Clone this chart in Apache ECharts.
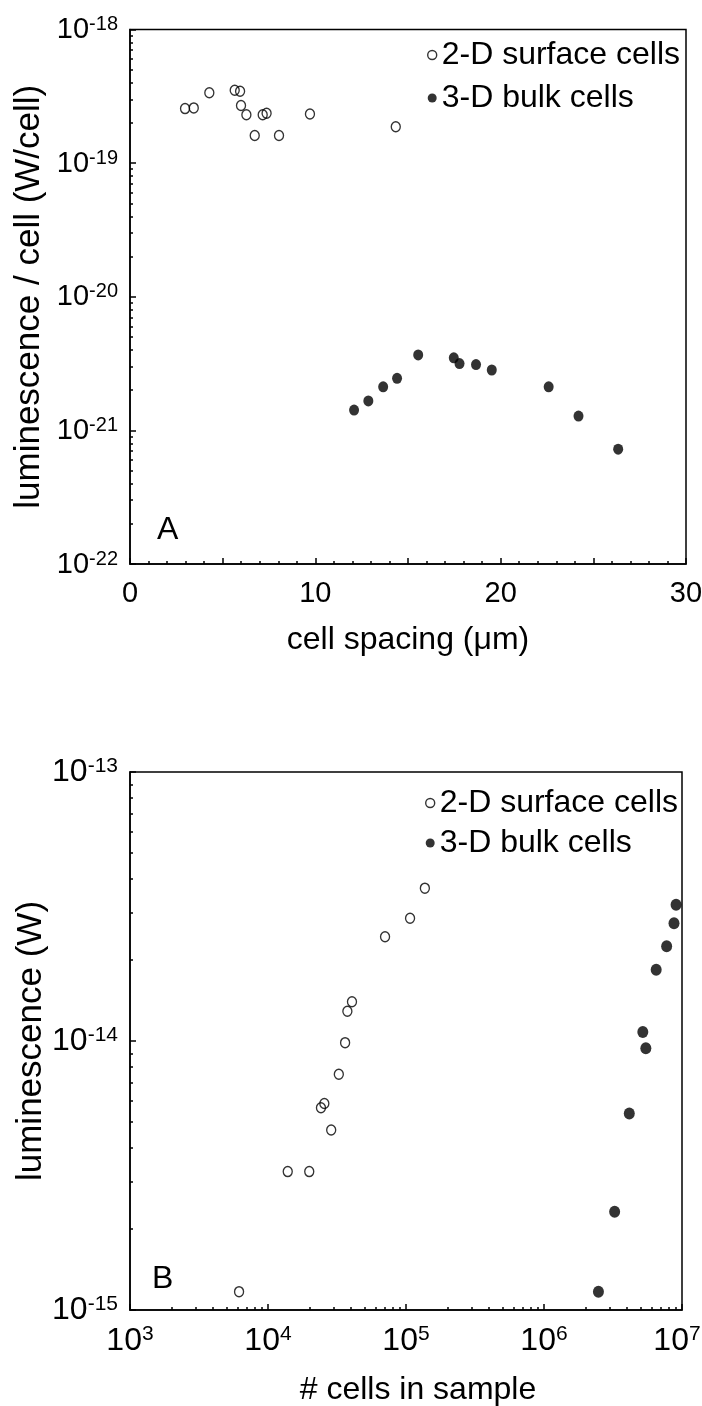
<!DOCTYPE html>
<html><head><meta charset="utf-8">
<script src="https://cdn.jsdelivr.net/npm/echarts@6/dist/echarts.min.js"></script>
<style>html,body{margin:0;padding:0;background:#fff}#c{width:702px;height:1406px}</style>
</head><body><div id="c"></div>
<script>
const FONT = '"Liberation Sans", Arial, sans-serif';
// ---- Panel A: luminescence per cell vs cell spacing ----
const spacing2D = [2.97,3.44,4.28,5.65,5.94,5.99,6.28,6.73,7.16,7.37,8.04,9.71,14.34];
const lumCell2D = [2.56e-19,2.59e-19,3.36e-19,3.51e-19,3.45e-19,2.70e-19,2.30e-19,1.61e-19,2.30e-19,2.36e-19,1.61e-19,2.33e-19,1.87e-19];
const spacing3D = [12.09,12.86,13.66,14.41,15.55,17.47,17.78,18.67,19.52,22.59,24.20,26.34];
const lumCell3D = [1.42e-21,1.66e-21,2.12e-21,2.45e-21,3.67e-21,3.49e-21,3.16e-21,3.11e-21,2.83e-21,2.12e-21,1.28e-21,7.23e-22];
// ---- Panel B: luminescence vs number of cells ----
const cells2D = [6.17e3,1.39e4,1.99e4,2.42e4,2.56e4,2.87e4,3.26e4,3.62e4,3.76e4,4.06e4,7.05e4,1.07e5,1.37e5];
const lum2D = [1.17e-15,3.27e-15,3.27e-15,5.65e-15,5.86e-15,4.67e-15,7.52e-15,9.86e-15,1.29e-14,1.40e-14,2.44e-14,2.86e-14,3.70e-14];
const cells3D = [2.48e6,3.25e6,4.15e6,5.2e6,5.47e6,6.5e6,7.74e6,8.75e6,9.06e6];
const lum3D = [1.17e-15,2.32e-15,5.38e-15,1.08e-14,9.40e-15,1.84e-14,2.25e-14,2.74e-14,3.21e-14];
// ---- tick labels / names ----
const xTickLabelsA = [0,10,20,30];
const yExpRangeA = [-22,-18];   // decades shown as 10^n labels
const xExpRangeB = [3,7];
const yExpRangeB = [-15,-13];
const seriesNames = ['2-D surface cells','3-D bulk cells'];
const panelLabels = ['A','B'];
const axisNames = {xA:'cell spacing (\u03bcm)', yA:'luminescence / cell (W/cell)', xB:'# cells in sample', yB:'luminescence (W)'};

function zip(a,b){return a.map((v,i)=>[v,b[i]]);}
function minorLogs(e0,e1){const r=[];for(let e=e0;e<e1;e++)for(let k=2;k<=9;k++)r.push(e+Math.log10(k));return r;}
const BLACK = {color:'#000', width:1.5};
function powRich(big, small){
  return {
    b:{fontSize:big, fontFamily:FONT, color:'#000', verticalAlign:'bottom', lineHeight:big+1},
    s:{fontSize:small, fontFamily:FONT, color:'#000', verticalAlign:'top', lineHeight:14},
    z:{width:10}
  };
}
function powFmt(v){return '{b|10}{s|' + Math.round(v) + '}';}

const openStyle = {color:'rgba(0,0,0,0)', borderColor:'#000', borderWidth:1.4};
const fillStyle = {color:'#000'};
const nameStyle = {fontSize:32, fontFamily:FONT, color:'#000'};
const hiddenBits = {axisLabel:{show:false}, splitLine:{show:false}, axisTick:{show:false}};

function logDataAxis(grid, e, pos){
  return Object.assign({gridIndex:grid, type:'log', logBase:10, min:Math.pow(10,e[0]), max:Math.pow(10,e[1]), position:pos,
    axisLine:{lineStyle:BLACK}}, hiddenBits);
}
function majorAxis(grid, e, pos, labelOpt, nameOpt){
  return Object.assign({gridIndex:grid, type:'value', min:e[0], max:e[1], interval:1, position:pos,
    axisLine:{show:false}, splitLine:{show:false},
    axisTick:{inside:true, length:6, lineStyle:BLACK},
    axisLabel:labelOpt, nameMoveOverlap:false}, nameOpt);
}
function minorAxis(grid, e, pos){
  return {gridIndex:grid, type:'value', min:e[0], max:e[1], position:pos,
    axisLine:{show:false}, axisLabel:{show:false}, splitLine:{show:false},
    axisTick:{inside:true, length:3, lineStyle:BLACK, customValues:minorLogs(e[0],e[1])}};
}

const chart = echarts.init(document.getElementById('c'), null, {renderer:'canvas'});
chart.setOption({
  animation:false,
  backgroundColor:'#fff',
  grid:[
    {left:130, top:29.5, width:556, height:534.5, show:true, borderColor:'#000', borderWidth:1.5, backgroundColor:'transparent', containLabel:false, outerBoundsMode:'none'},
    {left:130, top:772, width:552, height:538, show:true, borderColor:'#000', borderWidth:1.5, backgroundColor:'transparent', containLabel:false, outerBoundsMode:'none'}
  ],
  xAxis:[
    {gridIndex:0, type:'value', min:0, max:30, interval:5,
     axisLine:{lineStyle:BLACK}, axisTick:{inside:true, length:6, lineStyle:BLACK},
     minorTick:{show:true, splitNumber:5, length:3, lineStyle:BLACK},
     splitLine:{show:false}, minorSplitLine:{show:false},
     axisLabel:{formatter:v=>xTickLabelsA.includes(v)?String(v):'', fontSize:29, fontFamily:FONT, color:'#000', margin:15},
     name:axisNames.xA, nameLocation:'middle', nameGap:60, nameMoveOverlap:false, nameTextStyle:nameStyle},
    logDataAxis(1, xExpRangeB, 'bottom'),
    majorAxis(1, xExpRangeB, 'bottom',
      {formatter:v=>powFmt(v)+(v===xExpRangeB[1]?'{z|}':''), rich:powRich(32,21), margin:14},
      {name:axisNames.xB, nameLocation:'middle', nameGap:64, nameTextStyle:Object.assign({padding:[0,0,0,24]}, nameStyle)}),
    minorAxis(1, xExpRangeB, 'bottom')
  ],
  yAxis:[
    logDataAxis(0, yExpRangeA, 'left'),
    majorAxis(0, yExpRangeA, 'left', {formatter:powFmt, rich:powRich(29,20), margin:12},
      {name:axisNames.yA, nameLocation:'middle', nameGap:83, nameRotate:90, nameTextStyle:Object.assign({}, nameStyle, {fontSize:35})}),
    minorAxis(0, yExpRangeA, 'left'),
    logDataAxis(1, yExpRangeB, 'left'),
    majorAxis(1, yExpRangeB, 'left', {formatter:powFmt, rich:powRich(32,21), margin:12},
      {name:axisNames.yB, nameLocation:'middle', nameGap:81, nameRotate:90, nameTextStyle:Object.assign({}, nameStyle, {fontSize:35})}),
    minorAxis(1, yExpRangeB, 'left')
  ],
  legend:[
    {left:427, top:37, orient:'vertical', padding:0, itemWidth:9, itemHeight:9, itemGap:7, selectedMode:false,
     textStyle:{fontSize:32, fontFamily:FONT, color:'#000', lineHeight:36},
     data:[{name:seriesNames[0], icon:'circle', itemStyle:openStyle},{name:seriesNames[1], icon:'circle', itemStyle:fillStyle}]},
    {left:425, top:785, orient:'vertical', padding:0, itemWidth:9, itemHeight:9, itemGap:4, selectedMode:false,
     textStyle:{fontSize:32, fontFamily:FONT, color:'#000', lineHeight:36},
     data:[{name:seriesNames[0], icon:'circle', itemStyle:openStyle},{name:seriesNames[1], icon:'circle', itemStyle:fillStyle}]}
  ],
  graphic:[
    {type:'text', style:{x:157, y:530, text:panelLabels[0], fontSize:32, fontFamily:FONT, fill:'#000', verticalAlign:'middle'}},
    {type:'text', style:{x:152, y:1279, text:panelLabels[1], fontSize:32, fontFamily:FONT, fill:'#000', verticalAlign:'middle'}}
  ],
  series:[
    {name:seriesNames[0], type:'scatter', xAxisIndex:0, yAxisIndex:0, symbol:'circle', symbolSize:[9,10], itemStyle:openStyle, data:zip(spacing2D,lumCell2D)},
    {name:seriesNames[1], type:'scatter', xAxisIndex:0, yAxisIndex:0, symbol:'circle', symbolSize:[10,11], itemStyle:fillStyle, data:zip(spacing3D,lumCell3D)},
    {name:seriesNames[0], type:'scatter', xAxisIndex:1, yAxisIndex:3, symbol:'circle', symbolSize:[9,10], itemStyle:openStyle, data:zip(cells2D,lum2D)},
    {name:seriesNames[1], type:'scatter', xAxisIndex:1, yAxisIndex:3, symbol:'circle', symbolSize:[11,12], itemStyle:fillStyle, data:zip(cells3D,lum3D)}
  ]
});
</script>
</body></html>
